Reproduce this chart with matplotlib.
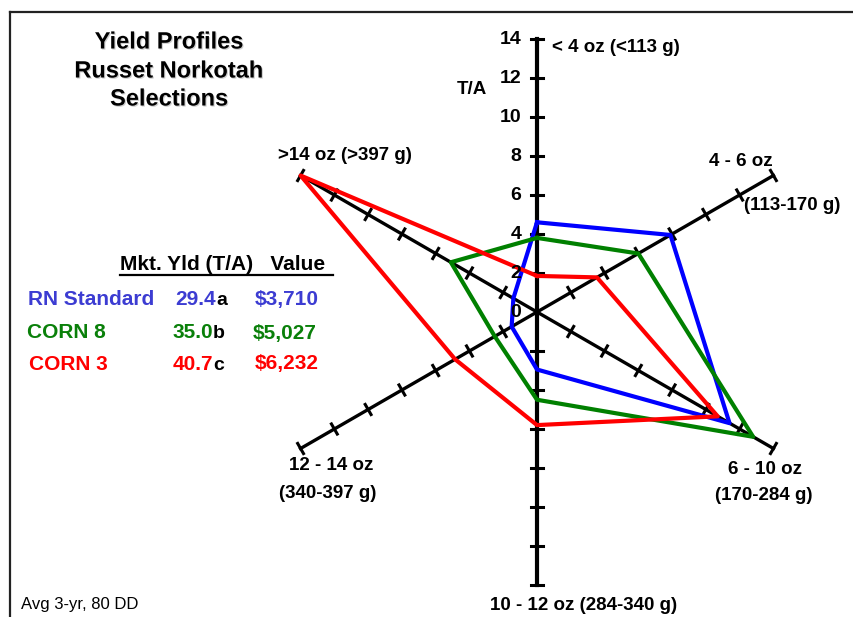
import numpy as np
import matplotlib.pyplot as plt
import matplotlib.patheffects as pe
from matplotlib.lines import Line2D

plt.rcParams['font.family'] = ['Liberation Sans', 'DejaVu Sans']

# size classes, clockwise from the top spoke
categories = ['< 4 oz (<113 g)', '4 - 6 oz', '6 - 10 oz', '10 - 12 oz (284-340 g)', '12 - 14 oz', '>14 oz (>397 g)']
categories_g = ['', '(113-170 g)', '(170-284 g)', '', '(340-397 g)', '']
spoke_angles = [90, 30, -30, -90, -150, 150]

# yield (T/A) per size class
rn_standard = [4.6, 7.9, 11.4, 2.95, 1.5, 1.4]
corn_8 = [3.8, 6.0, 12.8, 4.5, 2.5, 5.1]
corn_3 = [1.85, 3.55, 10.7, 5.8, 4.85, 14.0]

tick_values = [0, 2, 4, 6, 8, 10, 12, 14]

selections = ['RN Standard', 'CORN 8', 'CORN 3']
mkt_yield = ['29.4', '35.0', '40.7']
yield_letters = ['a', 'b', 'c']
crop_value = ['$3,710', '$5,027', '$6,232']

W, H = 854, 617
cx, cy, unit = 537, 312, 19.5
rmax = 14

line_colors = ['#0000ff', '#008000', '#ff0000']
text_colors = ['#3c3cd2', '#0a800a', '#ff0000']

fig = plt.figure(figsize=(W / 100, H / 100), dpi=100)
ax = fig.add_axes([0, 0, 1, 1])
ax.set_xlim(-cx / unit, (W - cx) / unit)
ax.set_ylim(-(H - cy) / unit, cy / unit)
ax.axis('off')


def ftext(x, y, s, **kw):
    # place text in pixel coords of the picture
    return fig.text(x / W, 1 - y / H, s, **kw)


ang = np.deg2rad(spoke_angles)

# spokes with cross ticks
for a in ang:
    d = np.array([np.cos(a), np.sin(a)])
    n = np.array([-d[1], d[0]])
    lw = 3.0 if abs(np.cos(a)) < 1e-6 else 2.4
    ax.plot([0, rmax * d[0]], [0, rmax * d[1]], color='black', lw=lw, zorder=2)
    for v in tick_values[1:]:
        p = v * d
        h = 0.3
        ax.plot([p[0] - h * n[0], p[0] + h * n[0]], [p[1] - h * n[1], p[1] + h * n[1]],
                color='black', lw=2.2, zorder=2)

# yield profiles
for vals, col in zip([rn_standard, corn_8, corn_3], line_colors):
    r = np.array(vals + vals[:1])
    a = np.append(ang, ang[0])
    ax.plot(r * np.cos(a), r * np.sin(a), color=col, lw=3.0, zorder=3)

# tick labels on the top spoke
for v in tick_values:
    ax.text(-0.8, v, str(v), ha='right', va='center', fontsize=14, weight='bold')
ftext(472, 89, 'T/A', ha='center', va='center', fontsize=13.5, weight='bold')

# spoke labels
lab = dict(fontsize=13.5, weight='bold', va='center')
ftext(552, 47, categories[0], ha='left', **lab)
ftext(741, 161, categories[1], ha='center', **lab)
ftext(792, 205, categories_g[1], ha='center', **lab)
ftext(765, 469, categories[2], ha='center', **lab)
ftext(764, 496, categories_g[2], ha='center', **lab)
ftext(584, 606, categories[3], ha='center', **lab)
ftext(331, 466, categories[4], ha='center', **lab)
ftext(328, 493, categories_g[4], ha='center', **lab)
ftext(345, 155, categories[5], ha='center', **lab)

# title
shadow = [pe.SimplePatchShadow(offset=(0.8, -0.8), shadow_rgbFace='#cfcfcf', alpha=1), pe.Normal()]
for txt, y in zip(['Yield Profiles', 'Russet Norkotah', 'Selections'], [42, 71, 99]):
    ftext(169, y, txt, ha='center', va='center', fontsize=17, weight='bold', path_effects=shadow)

# summary table
ftext(120, 265, 'Mkt. Yld (T/A)   Value', ha='left', va='center', fontsize=15, weight='bold')
fig.add_artist(Line2D([120 / W, 333 / W], [1 - 275 / H, 1 - 275 / H], color='black', lw=1.6))
rows_y = [298, 331, 362]
name_x = [28, 27, 29]
yld_x = [216, 213, 213]
val_x = [255, 253, 255]
for i in range(3):
    y = rows_y[i] + 7.5
    kw = dict(va='baseline', fontsize=15, weight='bold', color=text_colors[i])
    ftext(name_x[i], y, selections[i], ha='left', **kw)
    ftext(yld_x[i], y, mkt_yield[i], ha='right', **kw)
    ftext(yld_x[i], y, yield_letters[i], ha='left', va='baseline', fontsize=14, weight='bold', color='black')
    ftext(val_x[i], y, crop_value[i], ha='left', **kw)

ftext(21, 604, 'Avg 3-yr, 80 DD', ha='left', va='center', fontsize=12)

# frame lines top and left
fig.add_artist(Line2D([10 / W, 1], [1 - 12 / H, 1 - 12 / H], color='#222222', lw=1.6))
fig.add_artist(Line2D([10 / W, 10 / W], [1 - 12 / H, 0], color='#222222', lw=1.6))

fig.savefig('out.png', dpi=100)
